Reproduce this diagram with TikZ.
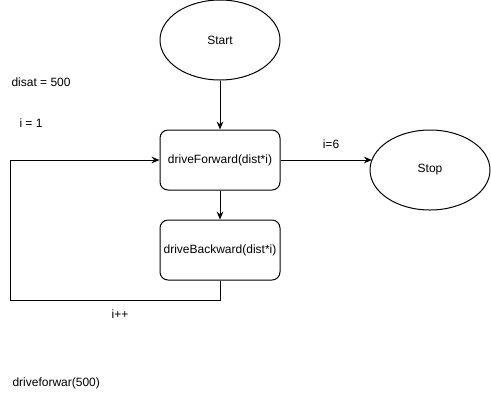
\documentclass[tikz,border=0pt]{standalone}
\usepackage{fontspec}
\setmainfont{Liberation Sans}
\usetikzlibrary{shapes.geometric,arrows.meta}
\begin{document}
\begin{tikzpicture}[x=0.75pt,y=-0.75pt,
  font=\fontsize{9}{11}\selectfont,
  line width=0.75pt,
  oval/.style={draw,ellipse,minimum width=90pt,minimum height=60pt,inner sep=0pt},
  proc/.style={draw,rounded corners=6pt,minimum width=90pt,minimum height=45pt,inner sep=0pt},
  flow/.style={-{Stealth[length=6pt,width=5pt,inset=2pt]}},
  note/.style={anchor=west,inner sep=0pt}]
  \useasboundingbox (0,0) rectangle (491,401);
  \fill[white] (0,0) rectangle (491,401);

  % terminals and steps
  \node[oval] (start) at (220,40) {Start};
  \node[proc] (fwd) at (220,160) {driveForward(dist*i)};
  \node[proc] (bwd) at (220,250) {driveBackward(dist*i)};
  \node[oval] (stop) at (430,170) {Stop};

  % loop return route
  \coordinate (c1) at (220,300);
  \coordinate (c2) at (10,300);
  \coordinate (c3) at (10,160);

  \draw[flow] (start) -- (fwd);
  \draw[flow] (fwd) -- (bwd);
  \draw[flow] (fwd.east) -- (371.9,160) coordinate (stopin);
  \draw[flow] (bwd.south) -- (c1) -- (c2) -- (c3) -- (fwd.west);

  % labels and notes
  \node (lsix) at (331,144) {i=6};
  \node (linc) at (120,314) {i++};
  \node[note] (ndist) at (11,82) {disat = 500};
  \node[note] (ni) at (19,123) {i = 1};
  \node[note] (ncall) at (12,383) {driveforwar(500)};
\end{tikzpicture}
\end{document}
